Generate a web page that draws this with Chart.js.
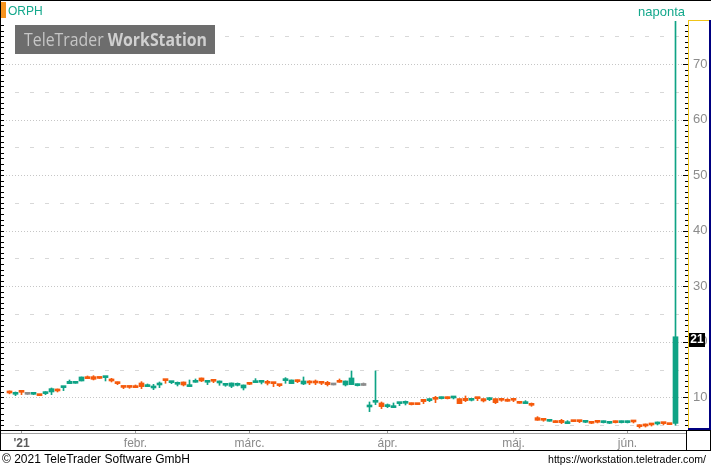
<!DOCTYPE html>
<html>
<head>
<meta charset="utf-8">
<script src="https://cdn.jsdelivr.net/npm/chart.js@4.4.0/dist/chart.umd.min.js"></script>
<style>
  html, body { margin: 0; padding: 0; background: #fff; }
</style>
</head>
<body>
<canvas id="chart" width="711" height="468"></canvas>
<script>
// trading days shown on the chart
const dates = [
  '2020-12-30','2020-12-31',
  '2021-01-04','2021-01-05','2021-01-06','2021-01-07','2021-01-08','2021-01-11','2021-01-12','2021-01-13','2021-01-14','2021-01-15',
  '2021-01-19','2021-01-20','2021-01-21','2021-01-22','2021-01-25','2021-01-26','2021-01-27','2021-01-28','2021-01-29',
  '2021-02-01','2021-02-02','2021-02-03','2021-02-04','2021-02-05','2021-02-08','2021-02-09','2021-02-10','2021-02-11','2021-02-12',
  '2021-02-16','2021-02-17','2021-02-18','2021-02-19','2021-02-22','2021-02-23','2021-02-24','2021-02-25','2021-02-26',
  '2021-03-01','2021-03-02','2021-03-03','2021-03-04','2021-03-05','2021-03-08','2021-03-09','2021-03-10','2021-03-11','2021-03-12',
  '2021-03-15','2021-03-16','2021-03-17','2021-03-18','2021-03-19','2021-03-22','2021-03-23','2021-03-24','2021-03-25','2021-03-26',
  '2021-03-29','2021-03-30','2021-03-31',
  '2021-04-01','2021-04-05','2021-04-06','2021-04-07','2021-04-08','2021-04-09','2021-04-12','2021-04-13','2021-04-14','2021-04-15',
  '2021-04-16','2021-04-19','2021-04-20','2021-04-21','2021-04-22','2021-04-23','2021-04-26','2021-04-27','2021-04-28','2021-04-29','2021-04-30',
  '2021-05-03','2021-05-04','2021-05-05','2021-05-06','2021-05-07','2021-05-10','2021-05-11','2021-05-12','2021-05-13','2021-05-14',
  '2021-05-17','2021-05-18','2021-05-19','2021-05-20','2021-05-21','2021-05-24','2021-05-25','2021-05-26','2021-05-27',
  '2021-06-01','2021-06-02','2021-06-03','2021-06-04','2021-06-07','2021-06-08','2021-06-09','2021-06-10','2021-06-11'
];

const opens = [
  11.14, 10.54, 11.02, 10.54, 10.54, 10.42, 10.66, 10.96, 11.50, 11.74,
  12.46, 12.52, 12.94, 13.48, 13.72, 13.44, 13.54, 13.12, 12.76, 11.82,
  11.82, 11.86, 12.58, 11.92, 11.68, 12.22, 13.12, 12.64, 12.34, 12.76,
  11.92, 12.70, 13.48, 12.70, 13.00, 12.58, 12.16, 11.98, 12.16, 11.68,
  12.46, 12.64, 12.70, 12.88, 12.58, 12.22, 13.00, 12.46, 13.12, 12.40,
  12.76, 12.82, 12.70, 12.70, 12.22, 12.82, 12.22, 12.28, 12.10, 12.13,
  8.26, 9.10, 8.98, 8.32, 8.14, 8.86, 8.92, 8.80, 8.86, 9.64,
  9.40, 9.88, 9.76, 9.94, 9.88, 9.76, 9.82, 9.46, 9.94, 9.76,
  9.58, 9.76, 9.64, 9.40, 9.58, 9.10, 8.86, 8.86, 6.34, 6.04,
  5.68, 5.80, 5.86, 5.26, 5.74, 5.74, 5.50, 5.50, 5.62, 5.44,
  5.32, 5.62, 5.44, 5.44, 5.74, 4.89, 5.20, 5.20, 5.20, 5.38,
  5.20, 5.30
];
const highs = [
  11.16, 10.96, 11.20, 10.56, 10.72, 10.54, 11.02, 11.68, 11.50, 11.86,
  13.12, 12.88, 13.66, 13.84, 13.90, 13.44, 13.66, 13.42, 12.76, 11.82,
  11.82, 12.22, 12.82, 12.40, 12.34, 12.76, 13.12, 12.76, 12.76, 12.76,
  13.12, 13.30, 13.48, 12.82, 13.00, 12.94, 12.52, 12.58, 12.58, 12.22,
  12.58, 13.36, 12.82, 13.06, 12.58, 12.22, 13.54, 13.12, 13.12, 13.66,
  13.00, 13.12, 12.88, 12.88, 12.40, 13.30, 12.94, 14.74, 12.40, 12.58,
  9.16, 14.74, 9.16, 8.80, 8.98, 8.98, 9.34, 8.98, 8.86, 9.64,
  9.76, 10.18, 10.06, 10.06, 10.06, 9.76, 10.24, 9.82, 9.94, 9.76,
  9.94, 9.76, 9.64, 9.76, 9.58, 9.28, 9.40, 8.98, 6.52, 6.22,
  5.74, 5.80, 6.04, 5.80, 5.74, 5.74, 5.74, 5.62, 5.74, 5.74,
  5.62, 5.74, 5.74, 5.74, 5.74, 5.08, 5.20, 5.20, 5.56, 5.38,
  5.20, 190.00
];
const lows = [
  10.62, 10.30, 10.48, 10.52, 10.48, 10.30, 10.48, 10.48, 10.96, 11.20,
  12.46, 12.52, 12.94, 13.36, 13.12, 13.40, 12.94, 12.76, 12.28, 11.56,
  11.62, 11.74, 11.56, 11.92, 11.38, 11.74, 12.52, 12.46, 12.04, 12.04,
  11.92, 12.70, 12.82, 12.28, 12.64, 12.16, 11.98, 11.74, 12.04, 11.32,
  12.28, 12.64, 12.40, 12.22, 11.92, 11.92, 12.52, 12.46, 12.64, 12.28,
  12.28, 12.28, 12.28, 12.04, 12.22, 12.70, 12.04, 12.28, 12.04, 12.13,
  7.42, 8.68, 7.96, 8.14, 8.14, 8.50, 8.62, 8.62, 8.68, 8.86,
  9.22, 9.04, 9.70, 9.70, 9.70, 8.86, 9.22, 9.34, 9.40, 9.16,
  9.40, 8.86, 9.28, 9.28, 9.22, 8.92, 8.86, 8.38, 5.86, 5.68,
  5.68, 5.44, 5.26, 5.26, 5.62, 5.44, 5.44, 5.26, 5.38, 5.38,
  5.26, 5.38, 5.38, 5.38, 5.38, 4.47, 4.65, 4.83, 5.02, 5.08,
  5.08, 5.00
];
const closes = [
  10.78, 10.66, 10.90, 10.54, 10.60, 10.30, 10.78, 11.56, 11.14, 11.86,
  12.88, 12.70, 13.66, 13.36, 13.24, 13.40, 13.66, 12.94, 12.46, 11.78,
  11.78, 11.74, 11.92, 12.22, 12.04, 12.34, 13.00, 12.76, 12.46, 12.22,
  12.22, 12.82, 12.94, 12.82, 12.88, 12.70, 12.28, 12.58, 12.28, 12.22,
  12.34, 13.00, 12.82, 12.52, 12.46, 12.10, 13.36, 13.12, 12.82, 12.94,
  12.58, 12.58, 12.52, 12.28, 12.22, 12.70, 12.94, 13.48, 12.22, 12.13,
  8.62, 9.22, 8.32, 8.50, 8.50, 8.98, 9.04, 8.68, 8.68, 9.22,
  9.64, 9.64, 9.94, 9.76, 10.06, 8.86, 9.40, 9.64, 9.76, 9.34,
  9.94, 9.04, 9.46, 9.28, 9.46, 8.92, 9.04, 8.56, 5.86, 5.86,
  5.74, 5.44, 5.44, 5.44, 5.62, 5.62, 5.62, 5.32, 5.50, 5.62,
  5.50, 5.44, 5.62, 5.62, 5.56, 4.71, 4.83, 5.02, 5.38, 5.26,
  5.08, 20.90
];

const monthLabels = ["'21", 'febr.', 'márc.', 'ápr.', 'máj.', 'jún.'];
const priceTicks = [10, 20, 30, 40, 50, 60, 70];
const lastPriceLabel = '21';

const UP = '#0fa385';
const DOWN = '#f55a0c';
const FLAT = '#8c8c8c';
const TEAL = '#14a88c';

// first trading day of every month -> x ticks
const monthIdx = dates.map((d, i) => i).filter(i => i > 0 && dates[i].slice(5, 7) !== dates[i - 1].slice(5, 7));
const idx = dates.map((d, i) => i);
const colorOf = i => closes[i] > opens[i] ? UP : (closes[i] < opens[i] ? DOWN : FLAT);

const frame = {
  id: 'frame',
  beforeDraw(chart) {
    const { ctx, chartArea: a, scales: { y } } = chart;
    ctx.save();
    ctx.fillStyle = '#fff';
    ctx.fillRect(0, 0, chart.width, chart.height);
    ctx.lineWidth = 1;
    for (let v = 5; v < 78; v += 5) {
      const py = Math.round(y.getPixelForValue(v)) + 0.5;
      if (v % 10 === 0) {
        ctx.strokeStyle = '#c6c6c6';
        ctx.setLineDash([1, 2]);
        ctx.lineDashOffset = 0;
      } else {
        ctx.strokeStyle = '#d8d8d8';
        ctx.setLineDash([4, 11]);
        ctx.lineDashOffset = 3;
      }
      ctx.beginPath();
      ctx.moveTo(a.left, py);
      ctx.lineTo(a.right, py);
      ctx.stroke();
    }
    ctx.restore();
  },
  beforeDatasetsDraw(chart) {
    const ctx = chart.ctx;
    ctx.save();
    // watermark
    ctx.fillStyle = '#6d6d6d';
    ctx.fillRect(15, 25, 200, 29);
    ctx.font = '18px "Open Sans"';
    const w1 = ctx.measureText('TeleTrader ').width;
    ctx.font = 'bold 18px "Open Sans"';
    const w2 = ctx.measureText('WorkStation').width;
    const sx = 183 / (w1 + w2);
    ctx.translate(24, 46);
    ctx.scale(sx, 1);
    ctx.fillStyle = '#c6c6c6';
    ctx.textBaseline = 'alphabetic';
    ctx.font = '18px "Open Sans"';
    ctx.fillText('TeleTrader ', 0, 0);
    ctx.font = 'bold 18px "Open Sans"';
    ctx.fillStyle = '#d0d0d0';
    ctx.fillText('WorkStation', w1, 0);
    ctx.restore();
  },
  afterDraw(chart) {
    const { ctx, scales: { x, y } } = chart;
    const W = chart.width;
    ctx.save();

    // outer frame
    ctx.fillStyle = '#000';
    ctx.fillRect(0, 0, W, 1);
    ctx.fillRect(0, 0, 1, 450);

    // symbol + period
    ctx.fillStyle = '#f7931e';
    ctx.fillRect(1, 2, 5, 16);
    ctx.fillStyle = TEAL;
    ctx.font = '12px "Liberation Sans", Arial, sans-serif';
    ctx.textBaseline = 'alphabetic';
    ctx.textAlign = 'left';
    ctx.fillText('ORPH', 8, 15);
    ctx.textAlign = 'right';
    ctx.font = '13px "Liberation Sans", Arial, sans-serif';
    ctx.fillText('naponta', 685, 16, 47);

    // small ticks on both edges, one per unit
    ctx.fillStyle = '#000';
    for (let v = 5; v <= 77; v++) {
      const py = Math.round(y.getPixelForValue(v));
      ctx.fillRect(1, py, 3, 1);
      if (v % 10 === 0) ctx.fillRect(683, py, 5, 1);
      else ctx.fillRect(685, py, 3, 1);
    }

    // price axis frame
    ctx.fillStyle = '#f0c419';
    ctx.fillRect(688, 20, 1, 409);
    ctx.fillRect(688, 20, 21, 1);
    ctx.fillStyle = '#000080';
    ctx.fillRect(709, 20, 2, 410);
    ctx.fillRect(688, 428, 23, 2);

    // time axis frame
    ctx.fillStyle = '#000';
    ctx.fillRect(0, 430, W, 1);
    ctx.fillRect(0, 450, W, 1);
    ctx.fillRect(686, 430, 1, 20);
    ctx.fillRect(710, 430, 1, 20);
    ctx.fillStyle = '#a0a0a0';
    ctx.fillRect(1, 433, 685, 1);
    monthIdx.forEach(i => {
      ctx.fillRect(Math.floor(x.getPixelForValue(i)), 431, 1, 2);
    });

    // last price marker
    const py = Math.round(y.getPixelForValue(closes[closes.length - 1]));
    ctx.fillStyle = '#000';
    ctx.fillRect(689, py - 4, 16, 14);
    ctx.fillStyle = '#fff';
    ctx.font = 'bold 12px "Liberation Sans", Arial, sans-serif';
    ctx.textAlign = 'center';
    ctx.textBaseline = 'middle';
    ctx.fillText(lastPriceLabel, 697, py + 3);

    // footer
    ctx.fillStyle = '#000';
    ctx.textBaseline = 'alphabetic';
    ctx.textAlign = 'left';
    ctx.font = '12px "Liberation Sans", Arial, sans-serif';
    ctx.fillText('© 2021 TeleTrader Software GmbH', 2, 463, 196);
    ctx.textAlign = 'right';
    ctx.font = '11px "Liberation Sans", Arial, sans-serif';
    ctx.fillText('https://workstation.teletrader.com/', 706, 463, 158);
    ctx.restore();
  }
};

new Chart(document.getElementById('chart'), {
  type: 'bar',
  data: {
    datasets: [
      {
        label: 'wick',
        data: idx.map(i => ({ x: i, y: [lows[i], highs[i]] })),
        backgroundColor: idx.map(colorOf),
        barThickness: 1,
        grouped: false,
        borderWidth: 0,
        clip: 0,
        order: 2
      },
      {
        label: 'body',
        data: idx.map(i => ({ x: i, y: [Math.min(opens[i], closes[i]), Math.max(opens[i], closes[i])] })),
        backgroundColor: idx.map(colorOf),
        barThickness: 5,
        minBarLength: 2,
        grouped: false,
        borderWidth: 0,
        clip: 0,
        order: 1
      }
    ]
  },
  options: {
    responsive: false,
    animation: false,
    layout: { padding: { left: 3, top: 21, right: 0, bottom: 18 } },
    plugins: {
      legend: { display: false },
      tooltip: { enabled: false }
    },
    scales: {
      x: {
        type: 'linear',
        position: 'bottom',
        offset: false,
        min: -1.0833,
        max: 112.75,
        afterFit: s => { s.height = 20; },
        afterBuildTicks: s => { s.ticks = monthIdx.map(v => ({ value: v })); },
        grid: { display: false, drawOnChartArea: false, drawTicks: false },
        border: { display: false },
        ticks: {
          autoSkip: false,
          maxRotation: 0,
          padding: 6,
          callback: v => monthLabels[monthIdx.indexOf(v)],
          color: c => c.index === 0 ? '#5a5a5a' : '#8a8a8a',
          font: c => ({
            family: '"Liberation Sans Narrow", "Liberation Sans", Arial, sans-serif',
            size: 12,
            weight: c.index === 0 ? 'bold' : 'normal'
          })
        }
      },
      y: {
        position: 'right',
        min: 4.114,
        max: 77.74,
        afterFit: s => { s.width = 25; },
        afterBuildTicks: s => { s.ticks = priceTicks.map(v => ({ value: v })); },
        grid: { display: false, drawTicks: false },
        border: { display: false },
        ticks: {
          padding: 7,
          color: '#8c8c8c',
          font: { family: '"Liberation Sans", Arial, sans-serif', size: 13 },
          callback: v => String(v)
        }
      }
    }
  },
  plugins: [frame]
});
</script>
</body>
</html>
